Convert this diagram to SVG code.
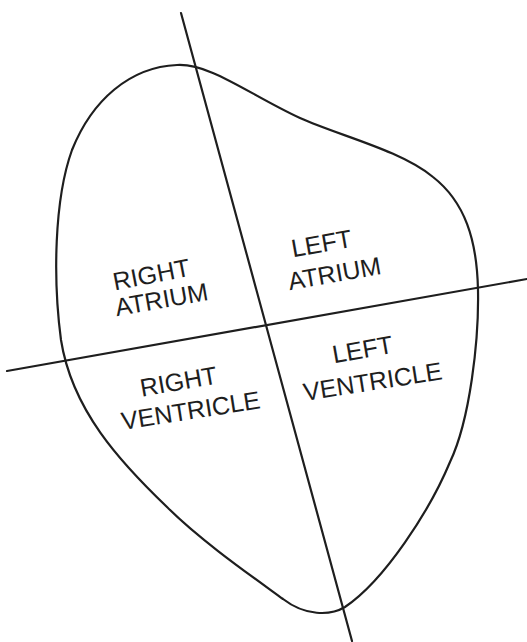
<svg xmlns="http://www.w3.org/2000/svg" width="527" height="642" viewBox="0 0 527 642">
<style>
.ln{fill:none;stroke:#1e1e1e;stroke-width:2.2;stroke-linecap:round;stroke-linejoin:round}
.lb{font-family:"Liberation Sans",Arial,sans-serif;font-size:25px;fill:#1e1e1e;text-anchor:middle}
</style>
<rect width="527" height="642" fill="#ffffff"/>
<g id="heart-outline">
<path class="ln" d="M177,65 C210,63 250,95 300,118 C340,136 400,150 433,177 C465,202 477,240 478,290 C479,340 470,420 450,462 C430,510 385,580 345,607 C330,616 305,616 283,599 C250,575 200,540 167,507 C120,462 72,410 61,340 C53,280 54,200 72,150 C92,100 130,67 177,65 Z"/>
</g>
<g id="connectors">
<line class="ln" x1="181" y1="13" x2="352" y2="641"/>
<line class="ln" x1="7" y1="371" x2="527" y2="279"/>
</g>
<g id="right-atrium">
<text class="lb" transform="translate(153,283) rotate(-11)">RIGHT</text>
<text class="lb" transform="translate(163,308) rotate(-10)">ATRIUM</text>
</g>
<g id="left-atrium">
<text class="lb" transform="translate(323,252) rotate(-10)">LEFT</text>
<text class="lb" transform="translate(336,282) rotate(-10)">ATRIUM</text>
</g>
<g id="right-ventricle">
<text class="lb" transform="translate(180,390) rotate(-10)">RIGHT</text>
<text class="lb" transform="translate(192,419) rotate(-9)">VENTRICLE</text>
</g>
<g id="left-ventricle">
<text class="lb" transform="translate(364,358) rotate(-10)">LEFT</text>
<text class="lb" transform="translate(374,390) rotate(-9)">VENTRICLE</text>
</g>
</svg>
